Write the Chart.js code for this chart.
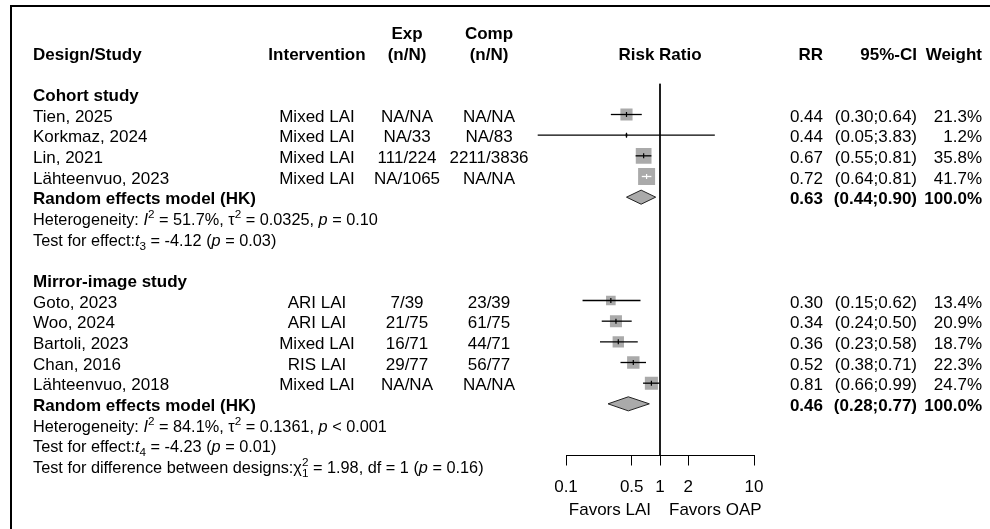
<!DOCTYPE html>
<html>
<head>
<meta charset="utf-8">
<script src="https://cdn.jsdelivr.net/npm/chart.js@4.4.0/dist/chart.umd.min.js"></script>
<style>
  html, body { margin: 0; padding: 0; background: #fff; }
  canvas { display: block; }
</style>
</head>
<body>
<canvas id="forest" width="990" height="529"></canvas>
<script>
// data
const designs = ['Cohort study', 'Mirror-image study'];
const studyLabels = ['Tien, 2025', 'Korkmaz, 2024', 'Lin, 2021', 'Lähteenvuo, 2023',
  'Goto, 2023', 'Woo, 2024', 'Bartoli, 2023', 'Chan, 2016', 'Lähteenvuo, 2018'];
const studyDesign = [0, 0, 0, 0, 1, 1, 1, 1, 1];
const interventions = ['Mixed LAI', 'Mixed LAI', 'Mixed LAI', 'Mixed LAI',
  'ARI LAI', 'ARI LAI', 'Mixed LAI', 'RIS LAI', 'Mixed LAI'];
const expCounts = ['NA/NA', 'NA/33', '111/224', 'NA/1065', '7/39', '21/75', '16/71', '29/77', 'NA/NA'];
const compCounts = ['NA/NA', 'NA/83', '2211/3836', 'NA/NA', '23/39', '61/75', '44/71', '56/77', 'NA/NA'];
const riskRatio = [0.44, 0.44, 0.67, 0.72, 0.30, 0.34, 0.36, 0.52, 0.81];
const ciLower = [0.30, 0.05, 0.55, 0.64, 0.15, 0.24, 0.23, 0.38, 0.66];
const ciUpper = [0.64, 3.83, 0.81, 0.81, 0.62, 0.50, 0.58, 0.71, 0.99];
const weights = [21.3, 1.2, 35.8, 41.7, 13.4, 20.9, 18.7, 22.3, 24.7];

const pooledLabel = 'Random effects model (HK)';
const pooledRR = [0.63, 0.46];
const pooledLower = [0.44, 0.28];
const pooledUpper = [0.90, 0.77];

const hetI2 = ['51.7%', '84.1%'];
const hetTau2 = ['0.0325', '0.1361'];
const hetP = ['= 0.10', '< 0.001'];
const effectDf = ['3', '4'];
const effectT = ['-4.12', '-4.23'];
const effectP = ['0.03', '0.01'];
const diffChi2 = '1.98';
const diffDf = '1';
const diffP = '0.16';

const tickValues = [0.1, 0.5, 1, 2, 10];
const favorsLeft = 'Favors LAI';
const favorsRight = 'Favors OAP';

// look
const FONT = '"Liberation Sans", Arial, sans-serif';
const SIZE = 17;
const HET_SIZE = 16.3;
const GRAY = '#aaaaaa';
const BOX_SCALE = 2.63;
const DIAMOND_H = 0.34;
const COL = { study: 33, interv: 317, exp: 407, comp: 489, rr: 823, ci: 917, weight: 982 };

// row layout
const rows = { header: [], study: [], pooled: [], het: [], effect: [] };
let r = 0;
designs.forEach((d, g) => {
  if (g > 0) r++;
  rows.header.push(r++);
  studyLabels.forEach((s, i) => { if (studyDesign[i] === g) rows.study[i] = r++; });
  rows.pooled.push(r++);
  rows.het.push(r++);
  rows.effect.push(r++);
});
const diffRow = r;

const boxSide = w => BOX_SCALE * Math.sqrt(w);

function ciColor(chart, i) {
  const x = chart.scales.x;
  if (!x) return '#000';
  const c = x.getPixelForValue(riskRatio[i]);
  const half = boxSide(weights[i]) / 2;
  const inside = x.getPixelForValue(ciLower[i]) >= c - half && x.getPixelForValue(ciUpper[i]) <= c + half;
  return inside ? '#fff' : '#000';
}

function drawRich(ctx, parts, x, y, size) {
  let cx = x;
  const small = size * 0.72;
  parts.forEach(([text, style]) => {
    if (style === 'supsub') {
      ctx.font = `${small}px ${FONT}`;
      ctx.fillText(text[0], cx, y - size * 0.42);
      ctx.fillText(text[1], cx, y + size * 0.25);
      cx += Math.max(ctx.measureText(text[0]).width, ctx.measureText(text[1]).width);
      return;
    }
    let dy = 0;
    if (style === 'i') ctx.font = `italic ${size}px ${FONT}`;
    else if (style === 'sup') { ctx.font = `${small}px ${FONT}`; dy = -size * 0.42; }
    else if (style === 'sub') { ctx.font = `${small}px ${FONT}`; dy = size * 0.25; }
    else ctx.font = `${size}px ${FONT}`;
    ctx.fillText(text, cx, y + dy);
    cx += ctx.measureText(text).width;
  });
}

const hetParts = g => [['Heterogeneity: ', ''], ['I', 'i'], ['2', 'sup'], [` = ${hetI2[g]}, `, ''],
  ['τ', ''], ['2', 'sup'], [` = ${hetTau2[g]}, `, ''], ['p', 'i'], [` ${hetP[g]}`, '']];
const effectParts = g => [['Test for effect:', ''], ['t', 'i'], [effectDf[g], 'sub'],
  [` = ${effectT[g]} (`, ''], ['p', 'i'], [` = ${effectP[g]})`, '']];
const diffParts = [['Test for difference between designs:', ''], ['χ', ''], [['2', diffDf], 'supsub'],
  [` = ${diffChi2}, df = ${diffDf} (`, ''], ['p', 'i'], [` = ${diffP})`, '']];

const tablePlugin = {
  id: 'table',
  beforeDraw(chart) {
    const ctx = chart.ctx;
    ctx.save();
    ctx.fillStyle = '#fff';
    ctx.fillRect(0, 0, chart.width, chart.height);
    ctx.fillStyle = '#000';
    ctx.fillRect(10, 5, chart.width - 10, 2);
    ctx.fillRect(10, 5, 2, chart.height - 5);
    ctx.restore();
  },
  afterDraw(chart) {
    const { ctx, scales: { x, y } } = chart;
    const ty = row => y.getPixelForValue(row) + 7;
    const put = (s, px, row, align, bold) => {
      ctx.font = `${bold ? 'bold ' : ''}${SIZE}px ${FONT}`;
      ctx.textAlign = align;
      ctx.fillText(s, px, ty(row));
    };
    ctx.save();
    ctx.fillStyle = '#000';
    ctx.textBaseline = 'alphabetic';

    // column headers
    put('Exp', COL.exp, -3, 'center', true);
    put('Comp', COL.comp, -3, 'center', true);
    put('Design/Study', COL.study, -2, 'left', true);
    put('Intervention', COL.interv, -2, 'center', true);
    put('(n/N)', COL.exp, -2, 'center', true);
    put('(n/N)', COL.comp, -2, 'center', true);
    put('Risk Ratio', (x.left + x.right) / 2, -2, 'center', true);
    put('RR', COL.rr, -2, 'right', true);
    put('95%-CI', COL.ci, -2, 'right', true);
    put('Weight', COL.weight, -2, 'right', true);

    designs.forEach((d, g) => put(d, COL.study, rows.header[g], 'left', true));

    studyLabels.forEach((s, i) => {
      const row = rows.study[i];
      put(s, COL.study, row, 'left', false);
      put(interventions[i], COL.interv, row, 'center', false);
      put(expCounts[i], COL.exp, row, 'center', false);
      put(compCounts[i], COL.comp, row, 'center', false);
      put(riskRatio[i].toFixed(2), COL.rr, row, 'right', false);
      put(`(${ciLower[i].toFixed(2)};${ciUpper[i].toFixed(2)})`, COL.ci, row, 'right', false);
      put(weights[i].toFixed(1) + '%', COL.weight, row, 'right', false);
    });

    pooledRR.forEach((v, g) => {
      const row = rows.pooled[g];
      put(pooledLabel, COL.study, row, 'left', true);
      put(v.toFixed(2), COL.rr, row, 'right', true);
      put(`(${pooledLower[g].toFixed(2)};${pooledUpper[g].toFixed(2)})`, COL.ci, row, 'right', true);
      put('100.0%', COL.weight, row, 'right', true);
      ctx.textAlign = 'left';
      drawRich(ctx, hetParts(g), COL.study, ty(rows.het[g]), HET_SIZE);
      drawRich(ctx, effectParts(g), COL.study, ty(rows.effect[g]), HET_SIZE);
    });
    ctx.textAlign = 'left';
    drawRich(ctx, diffParts, COL.study, ty(diffRow), HET_SIZE);

    // labels under the axis
    const one = x.getPixelForValue(1);
    const ly = x.bottom + 9;
    ctx.font = `${SIZE}px ${FONT}`;
    ctx.textAlign = 'right';
    ctx.fillText(favorsLeft, one - 9, ly);
    ctx.textAlign = 'left';
    ctx.fillText(favorsRight, one + 9, ly);
    ctx.restore();
  }
};

const refLine = {
  type: 'line',
  data: [{ x: 1, y: -0.5 }, { x: 1, y: diffRow - 0.5 }],
  borderColor: '#000', borderWidth: 1, pointRadius: 0, order: 6
};

const squares = {
  type: 'scatter',
  data: riskRatio.map((v, i) => ({ x: v, y: rows.study[i] })),
  pointStyle: 'rect',
  pointRadius: ctx => boxSide(weights[ctx.dataIndex]) / Math.SQRT2,
  pointBackgroundColor: GRAY,
  pointBorderWidth: 0,
  order: 5
};

const whiskers = riskRatio.map((v, i) => ({
  type: 'line',
  data: [{ x: ciLower[i], y: rows.study[i] }, { x: ciUpper[i], y: rows.study[i] }],
  borderColor: ctx => ciColor(ctx.chart, i),
  borderWidth: 1.3, pointRadius: 0, clip: false, order: 4
}));

const marks = {
  type: 'scatter',
  data: riskRatio.map((v, i) => ({ x: v, y: rows.study[i] })),
  pointStyle: 'line',
  pointRotation: 90,
  pointRadius: 2.5,
  pointBorderWidth: 1.2,
  pointBorderColor: ctx => ciColor(ctx.chart, ctx.dataIndex),
  order: 3
};

const diamonds = pooledRR.map((v, g) => {
  const row = rows.pooled[g];
  return {
    type: 'line',
    data: [
      { x: pooledLower[g], y: row }, { x: v, y: row - DIAMOND_H },
      { x: pooledUpper[g], y: row }, { x: v, y: row + DIAMOND_H },
      { x: pooledLower[g], y: row }
    ],
    fill: 'shape', backgroundColor: GRAY, borderColor: '#222',
    borderWidth: 1, pointRadius: 0, tension: 0, order: 2
  };
});

new Chart(document.getElementById('forest'), {
  type: 'scatter',
  data: { datasets: [refLine, squares, ...whiskers, marks, ...diamonds] },
  options: {
    responsive: false,
    animation: false,
    devicePixelRatio: 1,
    layout: { padding: { left: 566, right: 236, top: 83.5, bottom: 23.5 } },
    plugins: { legend: { display: false }, tooltip: { enabled: false } },
    scales: {
      x: {
        type: 'logarithmic',
        min: 0.1,
        max: 10,
        afterBuildTicks: s => { s.ticks = tickValues.map(v => ({ value: v })); },
        afterFit: s => { s.height = 50; },
        ticks: {
          callback: v => String(v),
          font: { size: SIZE, family: FONT },
          color: '#000', padding: 12, maxRotation: 0, autoSkip: false
        },
        grid: { drawOnChartArea: false, tickLength: 10, color: '#000' },
        border: { color: '#000', width: 1 }
      },
      y: { display: false, min: -0.5, max: diffRow - 0.5, reverse: true }
    }
  },
  plugins: [tablePlugin]
});
</script>
</body>
</html>
